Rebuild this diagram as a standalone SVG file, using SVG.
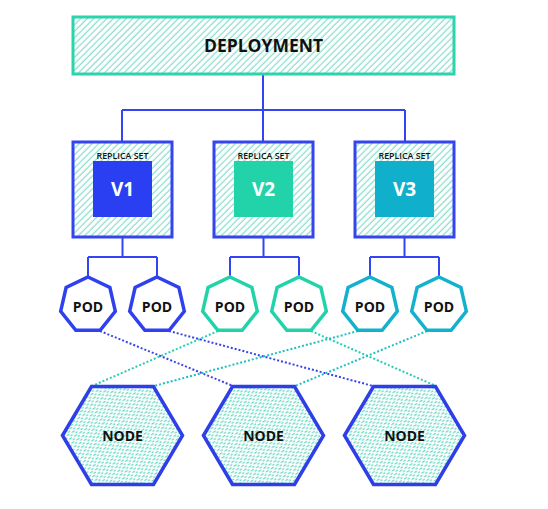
<svg xmlns="http://www.w3.org/2000/svg" width="548" height="509" viewBox="0 0 548 509">
<defs>
<pattern id="hatch" patternUnits="userSpaceOnUse" width="5" height="4.6" patternTransform="rotate(-45)">
<rect width="5" height="4.6" fill="#ffffff"/>
<line x1="0" y1="1.2" x2="5" y2="1.2" stroke="#86decb" stroke-width="1.2"/>
</pattern>
<pattern id="dash" patternUnits="userSpaceOnUse" width="6" height="4.4" patternTransform="rotate(-32)">
<rect width="6" height="4.4" fill="#ffffff"/>
<line x1="0.5" y1="1.5" x2="3.8" y2="1.5" stroke="#5fd6c0" stroke-width="1.2"/>
<line x1="3.5" y1="3.7" x2="6.8" y2="3.7" stroke="#5fd6c0" stroke-width="1.2"/>
</pattern>
<style>
.lbl{font-family:"Open Sans","Liberation Sans",sans-serif;font-weight:700;text-anchor:middle;fill:#111}
.rs{font-family:"Open Sans","Liberation Sans",sans-serif;font-weight:600;font-size:8.8px;text-anchor:middle;fill:#111}
.ver{font-family:"Open Sans","Liberation Sans",sans-serif;font-weight:700;font-size:19px;text-anchor:middle;fill:#ffffff}
.tree{fill:none;stroke:#3444f0;stroke-width:2}
.rsbox{fill:url(#hatch);stroke:#3444f0;stroke-width:3}
.pod{fill:#ffffff;stroke-width:3.5;stroke-linejoin:miter}
.node{fill:url(#dash);stroke:#2f3fe8;stroke-width:3.5}
.dotb{stroke:#3a44ea;stroke-width:2;stroke-dasharray:2 2;fill:none}
.dott{stroke:#25cdb4;stroke-width:2;stroke-dasharray:2 2;fill:none}
.dotc{stroke:#1fbfc3;stroke-width:2;stroke-dasharray:2 2;fill:none}
</style>
<polygon id="hept" points="0,-28 21.89,-17.46 27.3,6.23 12.15,25.23 -12.15,25.23 -27.3,6.23 -21.89,-17.46"/>
<polygon id="hex" points="-60,0 -31,-49 31,-49 60,0 31,49 -31,49"/>
</defs>

<g id="connectors">
<path class="tree" d="M263,74 V110 M122,110 H405 M122,110 V142 M263,110 V142 M405,110 V142"/>
<path class="tree" d="M122.5,237 V257 M88,257 H157 M88,257 V278 M157,257 V278"/>
<path class="tree" d="M263.5,237 V257 M230,257 H299 M230,257 V278 M299,257 V278"/>
<path class="tree" d="M404.5,237 V257 M370,257 H439 M370,257 V278 M439,257 V278"/>
<line class="dotb" x1="100" y1="331" x2="233" y2="386"/>
<line class="dotb" x1="169" y1="331" x2="373" y2="386"/>
<line class="dott" x1="218" y1="331" x2="92" y2="386"/>
<line class="dott" x1="311" y1="331" x2="436" y2="386"/>
<line class="dotc" x1="358" y1="331" x2="154" y2="386"/>
<line class="dotc" x1="427" y1="331" x2="295" y2="386"/>
</g>

<g id="deployment">
<rect x="73" y="17" width="381" height="57" fill="url(#hatch)" stroke="#2dd3aa" stroke-width="3"/>
<text class="lbl" x="263.5" y="51.5" font-size="17.5">DEPLOYMENT</text>
</g>

<g id="rs1">
<rect class="rsbox" x="73" y="142" width="99" height="95"/>
<text class="rs" x="122.5" y="158.5">REPLICA SET</text>
<rect x="93" y="161" width="59" height="56" fill="#2a3ef2"/>
<text class="ver" x="122.5" y="196">V1</text>
</g>
<g id="rs2">
<rect class="rsbox" x="214" y="142" width="99" height="95"/>
<text class="rs" x="263.5" y="158.5">REPLICA SET</text>
<rect x="234" y="161" width="59" height="56" fill="#22d3a9"/>
<text class="ver" x="263.5" y="196">V2</text>
</g>
<g id="rs3">
<rect class="rsbox" x="355" y="142" width="99" height="95"/>
<text class="rs" x="404.5" y="158.5">REPLICA SET</text>
<rect x="375" y="161" width="59" height="56" fill="#10afcc"/>
<text class="ver" x="404.5" y="196">V3</text>
</g>

<g id="pod1"><use href="#hept" x="88" y="305" class="pod" stroke="#2f40ee"/><text class="lbl" x="88" y="312" font-size="14">POD</text></g>
<g id="pod2"><use href="#hept" x="157" y="305" class="pod" stroke="#2f40ee"/><text class="lbl" x="157" y="312" font-size="14">POD</text></g>
<g id="pod3"><use href="#hept" x="230" y="305" class="pod" stroke="#22d3a9"/><text class="lbl" x="230" y="312" font-size="14">POD</text></g>
<g id="pod4"><use href="#hept" x="299" y="305" class="pod" stroke="#22d3a9"/><text class="lbl" x="299" y="312" font-size="14">POD</text></g>
<g id="pod5"><use href="#hept" x="370" y="305" class="pod" stroke="#14b1ce"/><text class="lbl" x="370" y="312" font-size="14">POD</text></g>
<g id="pod6"><use href="#hept" x="439" y="305" class="pod" stroke="#14b1ce"/><text class="lbl" x="439" y="312" font-size="14">POD</text></g>

<g id="node1"><use href="#hex" x="122.5" y="435.5" class="node"/><text class="lbl" x="122.5" y="440.5" font-size="14">NODE</text></g>
<g id="node2"><use href="#hex" x="263.5" y="435.5" class="node"/><text class="lbl" x="263.5" y="440.5" font-size="14">NODE</text></g>
<g id="node3"><use href="#hex" x="404.5" y="435.5" class="node"/><text class="lbl" x="404.5" y="440.5" font-size="14">NODE</text></g>
</svg>
